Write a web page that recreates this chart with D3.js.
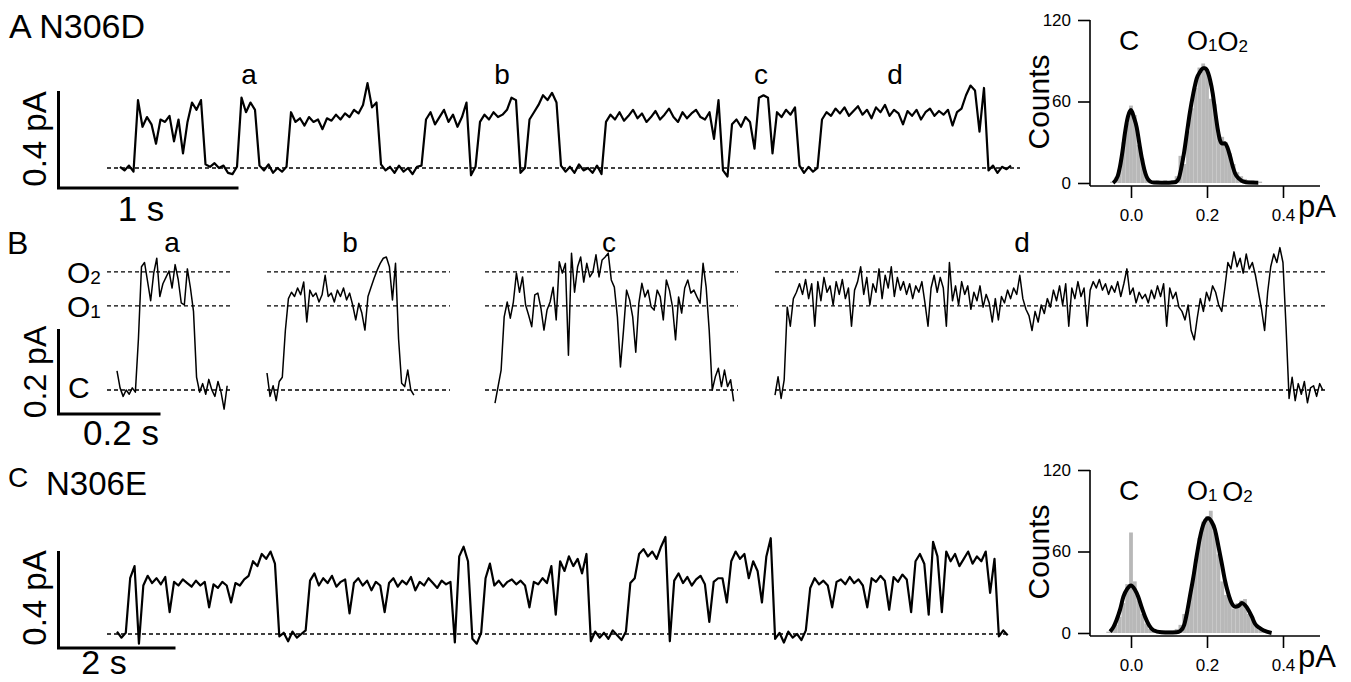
<!DOCTYPE html>
<html>
<head>
<meta charset="utf-8">
<script src="https://cdn.jsdelivr.net/npm/d3@7"></script>
<style>
  body { margin: 0; background: #fff; }
  text { font-family: "Liberation Sans", Arial, sans-serif; fill: #000; }
</style>
</head>
<body>
<svg id="fig" width="1351" height="682"></svg>
<script>
// ---- donnees (courants en fA, temps en s) ----

// A : N306D, trace longue, pas 0.025 s
var dtA = 0.025;
var traceA_fA = [5,-10,10,-15,
  280,170,210,180,100,200,190,215,110,200,60,190,270,240,280,
  15,5,20,0,10,-20,-25,5,
  290,230,270,240,
  10,-10,15,-20,0,-15,5,
  230,190,205,175,210,190,200,160,205,195,220,200,225,210,240,225,260,350,250,270,
  15,-10,5,-20,10,-15,0,-25,5,10,
  200,230,180,210,240,190,220,170,210,270,
  -30,5,
  190,220,200,230,210,220,240,290,280,
  -20,0,
  200,230,260,300,280,310,270,
  10,-15,5,-20,15,-10,0,-20,10,-25,
  190,220,200,230,195,215,240,205,225,190,210,235,200,220,245,210,190,230,205,225,240,210,200,230,120,280,
  -10,-35,
  180,200,170,210,190,80,290,300,290,60,230,210,240,220,250,
  10,-20,5,-15,0,
  200,230,215,245,225,250,215,235,255,220,240,205,250,230,260,215,240,225,180,235,215,240,200,230,245,215,235,220,240,175,230,245,300,340,320,150,330,
  -10,10,-20,5,-5,10];
var eventsA = ["a", "b", "c", "d"];

// B : extraits a-d, pas 0.006 s
var dtB = 0.006;
var traceBa_fA = [45,5,-15,0,-10,5,-5,120,290,300,255,210,275,310,220,250,265,280,240,295,
  260,205,200,285,240,185,30,-5,15,-10,25,0,-15,20,-5,-45,10];
var traceBb_fA = [40,-15,10,-25,20,30,140,215,230,220,240,224,254,160,235,220,228,207,224,270,
  220,228,207,235,220,240,212,228,200,165,204,181,141,220,242,263,282,298,310,313,
  290,212,298,120,16,8,47,0,-12];
var traceBc_fA = [-31,8,47,172,207,169,207,275,230,266,200,176,149,224,228,193,141,188,207,242,
  165,302,275,298,82,322,230,290,313,254,298,266,278,318,266,306,313,322,259,242,
  172,54,141,235,212,172,89,204,251,219,235,196,188,235,219,165,259,235,196,118,
  219,181,240,259,228,235,219,204,298,242,141,0,31,51,8,47,8,24,-27];
var traceBd_fA = [-12,31,-20,24,
  195,150,215,230,250,
  225,260,215,250,150,255,210,265,230,245,
  200,255,225,260,215,240,150,235,255,290,
  225,265,200,250,230,285,215,270,240,290,
  220,265,235,255,225,250,215,245,230,255,
  205,150,240,270,230,265,240,150,300,210,
  245,200,255,225,245,190,230,210,245,195,
  225,205,160,215,165,220,205,235,215,240,
  225,270,215,190,175,140,185,160,200,180,
  215,195,235,210,245,200,250,150,240,215,
  255,220,240,150,235,255,240,260,235,250,
  225,245,230,255,220,250,285,225,240,205,
  230,215,225,205,235,215,245,220,250,150,
  240,215,230,195,185,165,200,140,118,170,
  215,185,230,210,245,230,200,185,
  240,300,285,325,290,310,275,320,285,300,270,230,190,140,230,290,320,300,335,300,150,
  -20,30,-25,15,-10,20,-30,5,10,-15,15,0];
var levelsB_fA = [0, 198, 278];
var levelNamesB = [["C", ""], ["O", "1"], ["O", "2"]];

// C : N306E, pas 0.075 s
var dtC = 0.075;
var traceC_fA = [10,-15,5,
  230,280,
  -40,
  200,240,210,230,205,235,90,215,200,225,210,195,220,200,215,110,205,190,215,200,130,210,200,225,240,300,280,330,310,340,290,
  -10,5,-30,10,-15,0,15,
  220,250,200,230,210,240,195,215,225,85,210,230,200,220,180,215,200,90,210,230,195,220,205,235,180,215,200,230,210,190,220,205,215,
  -35,
  320,360,300,
  -20,-40,5,
  230,290,200,220,195,215,225,205,220,200,110,215,205,230,210,280,80,300,260,320,280,310,250,330,
  -30,10,-15,5,-20,15,-5,-25,10,
  210,230,330,350,320,340,310,360,400,
  -30,
  220,250,210,235,200,225,240,205,50,215,230,230,130,300,340,310,330,230,300,260,130,320,395,
  -20,5,-35,10,-15,0,-25,15,
  190,230,205,220,200,110,215,225,205,235,210,225,200,110,230,215,240,220,100,235,
  215,245,225,90,300,330,290,80,380,320,90,340,300,330,280,310,340,290,320,300,340,170,310,
  -10,15,-5];

// histogrammes (pA, comptes)
var histA_pA = [-0.05,-0.04,-0.03,-0.02,-0.01,0,0.01,0.02,0.03,0.04,0.05,0.06,0.07,0.08,0.09,0.1,0.11,0.12,0.13,0.14,
  0.15,0.16,0.17,0.18,0.19,0.2,0.21,0.22,0.23,0.24,0.25,0.26,0.27,0.28,0.29,0.3,0.31,0.32,0.33,0.34];
var histA_counts = [1,4,10,30,44,57,50,28,18,5,2,1,2,1,2,1,2,5,20,14,
  38,55,70,85,88,84,62,58,36,34,30,22,14,8,5,3,2,2,1,1];
var fitA_pA = [-0.047,-0.035,-0.029,-0.022,-0.016,-0.008,0,0.008,0.015,0.022,0.028,0.035,0.041,0.05,0.06,0.08,0.1,0.115,0.125,0.133,
  0.14,0.147,0.155,0.164,0.173,0.182,0.19,0.195,0.2,0.208,0.215,0.221,0.228,0.234,0.24,0.247,0.254,0.261,0.268,0.274,
  0.285,0.296,0.31,0.335];
var fitA_counts = [0,5,12,24,36.6,49,53.7,48,41,29,19,10,4.6,1.2,0.3,0.2,0.2,0.5,3,12,
  23,36.6,52,66,77,82,84.5,84.5,83,76,66,53.7,40,31.7,29,29.2,26,19.4,12,7,
  3,1,0.3,0.2];

var histC_pA = [-0.06,-0.05,-0.04,-0.03,-0.02,-0.01,0,0.01,0.02,0.03,0.04,0.05,0.06,0.07,0.08,0.09,0.1,0.11,0.12,0.13,
  0.14,0.15,0.16,0.17,0.18,0.19,0.2,0.21,0.22,0.23,0.24,0.25,0.26,0.27,0.28,0.29,0.3,0.31,0.32,0.33,
  0.34,0.35,0.36];
var histC_counts = [1,3,6,12,22,36,74,38,24,14,7,3,1,1,2,2,2,2,3,6,
  14,17,36,50,70,82,86,90,75,58,38,28,26,18,22,24,25,14,12,6,
  4,2,1];
var fitC_pA = [-0.055,-0.046,-0.038,-0.029,-0.02,-0.01,0,0.01,0.019,0.028,0.037,0.048,0.059,0.08,0.1,0.12,0.13,0.14,0.147,0.155,
  0.164,0.173,0.182,0.192,0.203,0.212,0.221,0.23,0.239,0.247,0.256,0.265,0.274,0.283,0.292,0.3,0.309,0.318,0.326,0.337,
  0.348,0.37];
var fitC_counts = [1,4.5,9.6,17,26.7,32.5,35,32,26.7,19,12,5.5,2,0.5,0.3,0.5,1.5,6,14.5,27,
  41,57,71,81,84.5,82,76,64,51,39,29,22,19.4,20,22,20.5,17,12,7,4,
  2,0];

var histTicksX = [0, 0.2, 0.4];
var histTicksY = [0, 60, 120];

// ---- dessin ----
var svg = d3.select("#fig");

function drawTrace(vals, dt, x, y, width) {
  var line = d3.line()
    .x(function(d, i) { return x(i * dt); })
    .y(function(d) { return y(d); });
  svg.append("path").datum(vals)
    .attr("d", line)
    .attr("fill", "none")
    .attr("stroke", "#000")
    .attr("stroke-width", width)
    .attr("stroke-linejoin", "round");
}

function dashed(x1, x2, yy) {
  svg.append("line")
    .attr("x1", x1).attr("x2", x2).attr("y1", yy).attr("y2", yy)
    .attr("stroke", "#000").attr("stroke-width", 1.4)
    .attr("stroke-dasharray", "4,3");
}

function scaleBar(x0, yBottom, lenX, lenY) {
  svg.append("path")
    .attr("d", "M" + x0 + "," + (yBottom - lenY) + "V" + yBottom + "H" + (x0 + lenX))
    .attr("fill", "none").attr("stroke", "#000").attr("stroke-width", 3);
}

function label(txt, x, y, size, anchor) {
  return svg.append("text").attr("x", x).attr("y", y)
    .attr("font-size", size).attr("text-anchor", anchor || "start").text(txt);
}

function vlabel(txt, x, y, size) {
  svg.append("text")
    .attr("transform", "translate(" + x + "," + y + ") rotate(-90)")
    .attr("font-size", size).attr("text-anchor", "middle").text(txt);
}

function subLabel(parts, x, y, size, subSize, anchor) {
  // parts : [[texte, indice], ...]
  var t = svg.append("text").attr("x", x).attr("y", y)
    .attr("font-size", size).attr("text-anchor", anchor || "start");
  parts.forEach(function(p) {
    t.append("tspan").attr("font-size", size).attr("dy", 0).text(p[0]);
    if (p[1]) t.append("tspan").attr("font-size", subSize).attr("dy", 1).text(p[1])
      .clone(true).text("").attr("dy", -1);
  });
  return t;
}

// ----- Panel A -----
var xA = d3.scaleLinear().domain([0, 1]).range([120, 300]);
var yA = d3.scaleLinear().domain([0, 400]).range([168, 71]);
label("A N306D", 9, 38, 34);
dashed(107, 1020, yA(0));
drawTrace(traceA_fA, dtA, xA, yA, 2.2);
scaleBar(58.5, 188, xA(1) - xA(0), yA(0) - yA(400));
vlabel("0.4 pA", 46, 139, 33);
label("1 s", 141, 221, 35, "middle");
[249, 502, 761, 895].forEach(function(px, k) { label(eventsA[k], px, 84, 28, "middle"); });

// ----- Panel B -----
var yB = d3.scaleLinear().domain([0, 200]).range([390, 305]);
var segB = [
  {vals: traceBa_fA, x0: 117, d1: 107, d2: 232, lx: 172},
  {vals: traceBb_fA, x0: 267, d1: 267, d2: 450, lx: 350},
  {vals: traceBc_fA, x0: 495, d1: 485, d2: 738, lx: 609},
  {vals: traceBd_fA, x0: 775, d1: 775, d2: 1328, lx: 1022}
];
label("B", 7, 254, 32);
segB.forEach(function(s, k) {
  var x = d3.scaleLinear().domain([0, 0.2]).range([s.x0, s.x0 + 102]);
  levelsB_fA.forEach(function(v) { dashed(s.d1, s.d2, yB(v)); });
  drawTrace(s.vals, dtB, x, yB, 1.5);
  label(eventsA[k], s.lx, 252, 28, "middle");
});
subLabel([levelNamesB[2]], 67, yB(levelsB_fA[2]) + 11, 30, 19);
subLabel([levelNamesB[1]], 67, yB(levelsB_fA[1]) + 11, 30, 19);
label(levelNamesB[0][0], 68, yB(0) + 8, 30);
scaleBar(58.5, 414, 102, yB(0) - yB(200));
vlabel("0.2 pA", 46, 372, 32);
label("0.2 s", 121, 445, 35, "middle");

// ----- Panel C -----
var xC = d3.scaleLinear().domain([0, 2]).range([117, 234]);
var yC = d3.scaleLinear().domain([0, 400]).range([634, 537]);
label("C", 8, 487, 28);
label("N306E", 46, 495, 33);
dashed(107, 1010, yC(0));
drawTrace(traceC_fA, dtC, xC, yC, 2.2);
scaleBar(58.5, 648, xC(2) - xC(0), yC(0) - yC(400));
vlabel("0.4 pA", 46, 598, 33);
label("2 s", 104, 674, 34, "middle");

// ----- Histogrammes -----
function histogram(binsX, counts, fitX, fitY, top, names) {
  var yZero = top + 163, axisY = top + 166;
  var x = d3.scaleLinear().domain([0, 0.4]).range([1131, 1283]);
  var y = d3.scaleLinear().domain([0, 120]).range([yZero, top]);
  var bw = x(0.01) - x(0);

  svg.append("g").selectAll("rect").data(binsX).join("rect")
    .attr("x", function(d) { return x(d) - bw / 2; })
    .attr("width", bw)
    .attr("y", function(d, i) { return y(counts[i]); })
    .attr("height", function(d, i) { return yZero - y(counts[i]); })
    .attr("fill", "#b8b8b8");

  svg.append("path").datum(fitX)
    .attr("d", d3.line().curve(d3.curveMonotoneX)
      .x(function(d) { return x(d); })
      .y(function(d, i) { return y(fitY[i]); }))
    .attr("fill", "none").attr("stroke", "#000").attr("stroke-width", 4);

  var gy = svg.append("g").attr("transform", "translate(1090,0)")
    .call(d3.axisLeft(y).tickValues(histTicksY).tickSize(12).tickPadding(7).tickSizeOuter(0));
  gy.select(".domain").attr("d", "M0," + top + "V" + axisY);
  var gx = svg.append("g").attr("transform", "translate(0," + axisY + ")")
    .call(d3.axisBottom(x).tickValues(histTicksX).tickFormat(d3.format(".1f"))
      .tickSize(12).tickPadding(11).tickSizeOuter(0));
  gx.select(".domain").attr("d", "M1090,0H1320");
  [gx, gy].forEach(function(g) {
    g.selectAll("path,line").attr("stroke", "#000").attr("stroke-width", 1.6);
    g.selectAll("text").attr("font-size", 17).attr("fill", "#000")
      .attr("font-family", "\"Liberation Sans\", Arial, sans-serif");
  });

  vlabel("Counts", 1049, top + 82, 30);
  label("pA", 1298, axisY + 31, 31);
  label("C", 1129, top + 30, 28, "middle");
  subLabel(names, 1187, top + 30, 27, 17);
}

histogram(histA_pA, histA_counts, fitA_pA, fitA_counts, 20, [["O", "1"], ["O", "2"]]);
histogram(histC_pA, histC_counts, fitC_pA, fitC_counts, 470, [["O", "1 "], ["O", "2"]]);
</script>
</body>
</html>
